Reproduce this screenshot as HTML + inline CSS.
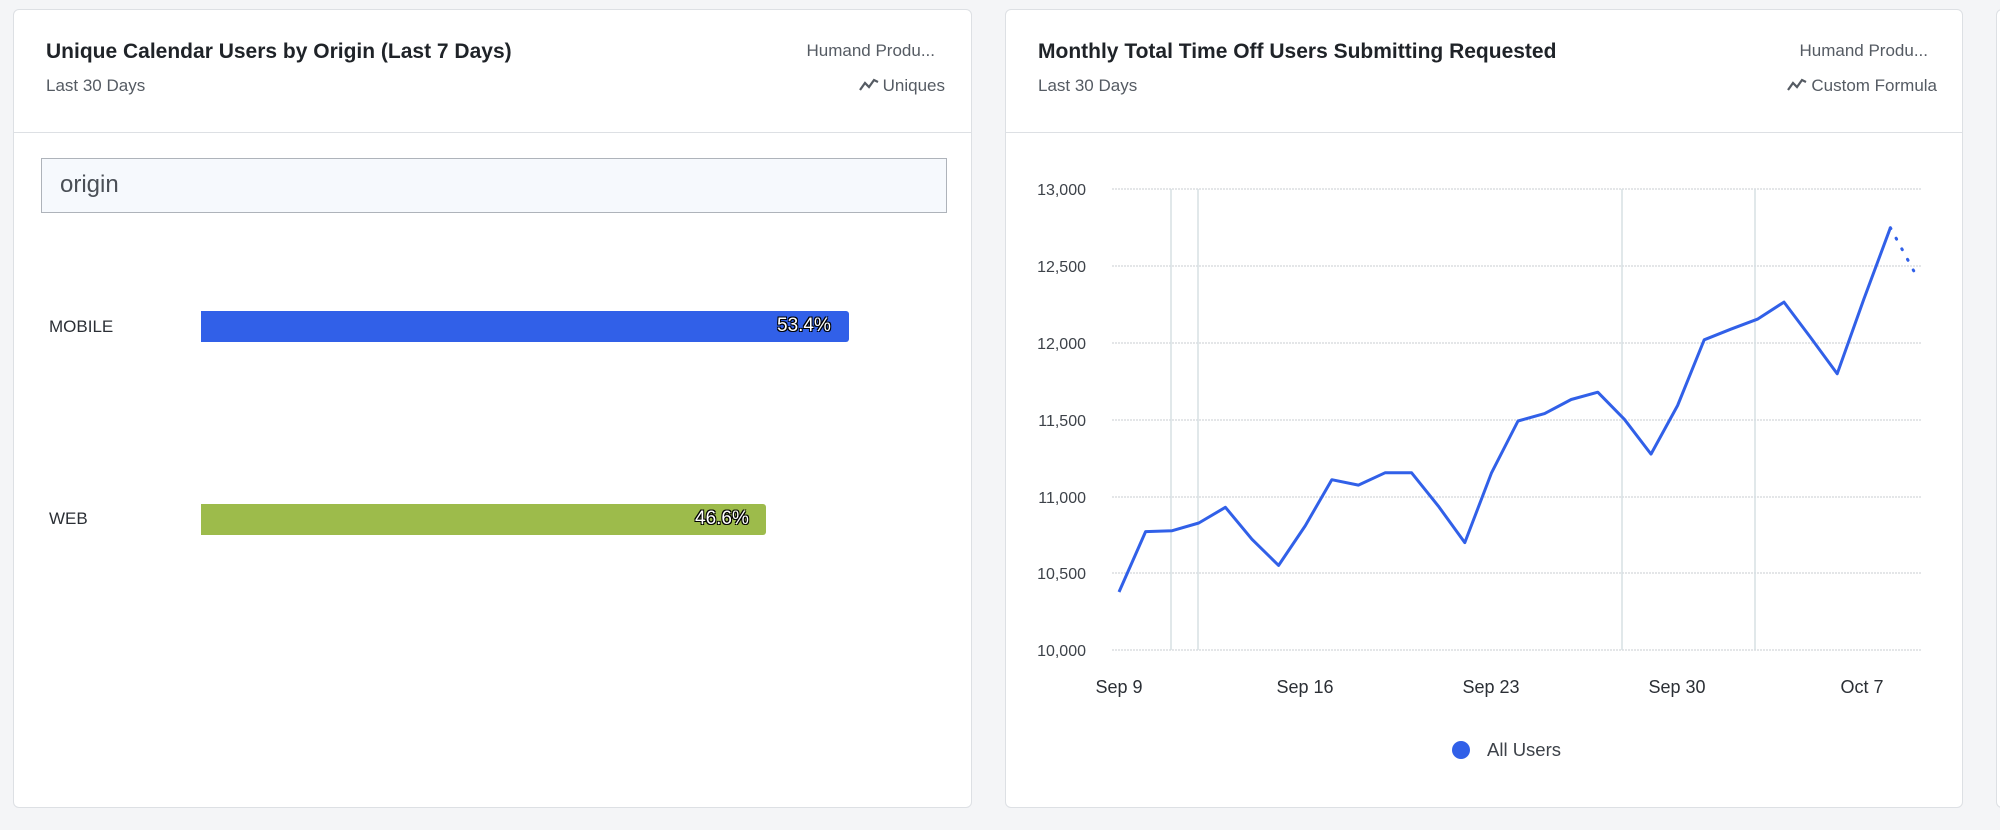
<!DOCTYPE html>
<html><head><meta charset="utf-8"><style>
body{margin:0;width:2000px;height:830px;background:#f4f5f7;font-family:"Liberation Sans",sans-serif;position:relative;overflow:hidden}
.card{position:absolute;top:9px;height:799px;background:#fff;border:1px solid #dde0e4;border-radius:6px;box-sizing:border-box}
.hdr{position:absolute;left:0;right:0;top:0;height:122px;border-bottom:1px solid #dde0e4}
.t{position:absolute;font-size:21px;font-weight:bold;color:#1f2328;top:30px;letter-spacing:0px}
.s{position:absolute;font-size:17px;color:#555b63;top:66px}
.r{position:absolute;font-size:17px;color:#555b63}
.a{position:absolute;font-size:17px;color:#2b2f35}
.pct{position:absolute;font-size:19px;color:#fff;text-shadow:-1px -1px 0 #000,1px -1px 0 #000,-1px 1px 0 #000,1px 1px 0 #000}
</style></head><body>
<div class="card" style="left:13px;width:959px">
 <div class="hdr"></div>
 <div class="t" style="left:32px">Unique Calendar Users by Origin (Last 7 Days)</div>
 <div class="s" style="left:32px">Last 30 Days</div>
 <div class="r" style="right:36px;top:31px">Humand Produ...</div>
 <div class="r" style="right:26px;top:66px"><svg width="20" height="14" style="vertical-align:-1px;margin-right:4px"><polyline points="1,12 6,5 10,9 15,2 19,4" fill="none" stroke="#555b63" stroke-width="2.2"/></svg>Uniques</div>
 <div style="position:absolute;left:27px;top:148px;width:906px;height:55px;border:1px solid #aeb3ba;background:#f6f9fd;box-sizing:border-box"></div>
 <div style="position:absolute;left:46px;top:161px;font-size:24px;color:#4a4f56">origin</div>
 <div class="a" style="left:35px;top:307px">MOBILE</div>
 <div style="position:absolute;left:187px;top:301px;width:648px;height:31px;background:#3160e8;border-radius:0 3px 3px 0"></div>
 <div class="pct" style="left:763px;top:305px">53.4%</div>
 <div class="a" style="left:35px;top:499px">WEB</div>
 <div style="position:absolute;left:187px;top:494px;width:565px;height:31px;background:#9dbb4b;border-radius:0 3px 3px 0"></div>
 <div class="pct" style="left:681px;top:498px">46.6%</div>
</div>
<div class="card" style="left:1005px;width:958px">
 <div class="hdr"></div>
 <div class="t" style="left:32px">Monthly Total Time Off Users Submitting Requested</div>
 <div class="s" style="left:32px">Last 30 Days</div>
 <div class="r" style="right:34px;top:31px">Humand Produ...</div>
 <div class="r" style="right:25px;top:66px"><svg width="20" height="14" style="vertical-align:-1px;margin-right:4px"><polyline points="1,12 6,5 10,9 15,2 19,4" fill="none" stroke="#555b63" stroke-width="2.2"/></svg>Custom Formula</div>
</div>
<div class="card" style="left:1996px;width:20px"></div>
<svg style="position:absolute;left:0;top:0" width="2000" height="830">
 <g stroke="#c9ccd1" stroke-width="1" stroke-dasharray="2,1">
  <line x1="1112" x2="1922" y1="189" y2="189"/><line x1="1112" x2="1922" y1="266" y2="266"/>
  <line x1="1112" x2="1922" y1="343" y2="343"/><line x1="1112" x2="1922" y1="420" y2="420"/>
  <line x1="1112" x2="1922" y1="497" y2="497"/><line x1="1112" x2="1922" y1="573" y2="573"/>
  <line x1="1112" x2="1922" y1="650" y2="650"/>
 </g>
 <g stroke="#d7e0e4" stroke-width="1.5">
  <line x1="1171" x2="1171" y1="189" y2="650"/><line x1="1198" x2="1198" y1="189" y2="650"/>
  <line x1="1622" x2="1622" y1="189" y2="650"/><line x1="1755" x2="1755" y1="189" y2="650"/>
 </g>
 <g font-size="16" fill="#3d4249" text-anchor="end">
  <text x="1086" y="195">13,000</text><text x="1086" y="272">12,500</text><text x="1086" y="349">12,000</text>
  <text x="1086" y="426">11,500</text><text x="1086" y="503">11,000</text><text x="1086" y="579">10,500</text><text x="1086" y="656">10,000</text>
 </g>
 <g font-size="18" fill="#2b2f35" text-anchor="middle">
  <text x="1119" y="693">Sep 9</text><text x="1305" y="693">Sep 16</text><text x="1491" y="693">Sep 23</text><text x="1677" y="693">Sep 30</text><text x="1862" y="693">Oct 7</text>
 </g>
 <polyline fill="none" stroke="#3160e8" stroke-width="3" stroke-linejoin="round" points="1119,592 1145.6,531.6 1172.2,530.7 1198.8,523 1225.4,507.3 1252,539.3 1278.6,565.4 1305.2,525.9 1331.8,479.7 1358.4,485.1 1385,472.8 1411.6,472.8 1438.2,505.9 1464.8,542.6 1491.4,473.1 1518,421 1544.6,413.6 1571.2,399.5 1597.8,392.2 1624.4,419.3 1651,454.1 1677.6,405.5 1704.2,339.8 1730.8,329.2 1757.4,319.2 1784,302.1 1810.6,337.5 1837.2,373.8 1863.8,299.3 1890.4,227.7"/>
 <polyline fill="none" stroke="#3160e8" stroke-width="3" stroke-dasharray="1,11" stroke-linecap="round" points="1890.4,227.7 1917,276.9"/>
 <circle cx="1461" cy="750" r="9" fill="#3160e8"/>
 <text x="1487" y="756" font-size="18.5" fill="#3d4249">All Users</text>
</svg>
</body></html>
